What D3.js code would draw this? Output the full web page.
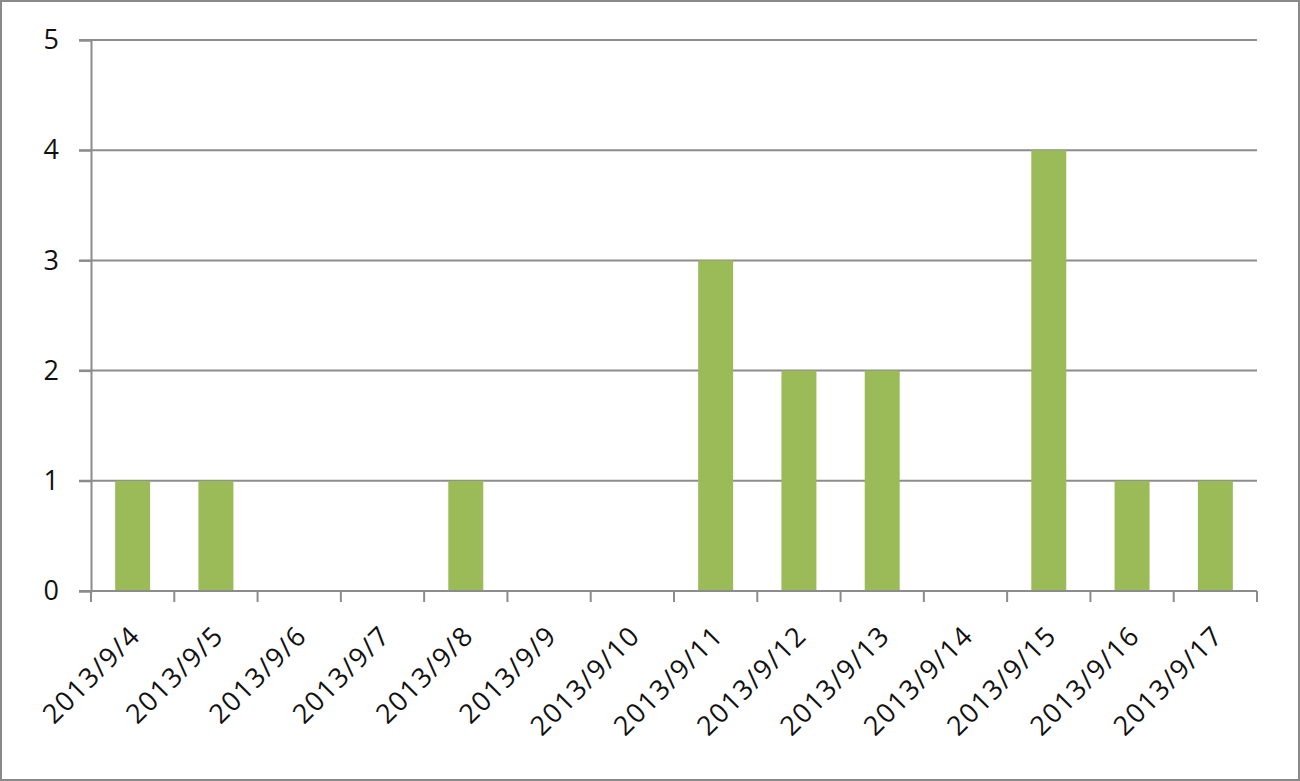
<!DOCTYPE html>
<html>
<head>
<meta charset="utf-8">
<script src="https://cdn.jsdelivr.net/npm/d3@7"></script>
<style>
  body { margin: 0; background: #fff; }
  svg text { font-family: "Open Sans", "Liberation Sans", sans-serif; fill: #111; }
</style>
</head>
<body>
<script>
const width = 1300,
      height = 781;

const dates = ["2013/9/4", "2013/9/5", "2013/9/6", "2013/9/7", "2013/9/8", "2013/9/9", "2013/9/10",
               "2013/9/11", "2013/9/12", "2013/9/13", "2013/9/14", "2013/9/15", "2013/9/16", "2013/9/17"];
const counts = [1, 1, 0, 0, 1, 0, 0, 3, 2, 2, 0, 4, 1, 1];
const yTicks = [0, 1, 2, 3, 4, 5];

const margin = {top: 40, right: 43, bottom: 190, left: 91};
const gridColor = "#8c8c8c";

const svg = d3.select("body").append("svg")
    .attr("width", width)
    .attr("height", height);

// outer frame
svg.append("rect")
    .attr("x", 1).attr("y", 1)
    .attr("width", width - 2).attr("height", height - 2)
    .attr("fill", "#fff")
    .attr("stroke", "#8a8a8a")
    .attr("stroke-width", 2);

const x = d3.scaleBand()
    .domain(dates)
    .range([margin.left, width - margin.right])
    .paddingInner(0.58)
    .paddingOuter(0.29);

const y = d3.scaleLinear()
    .domain([0, 5])
    .range([height - margin.bottom, margin.top]);

// gridlines
svg.append("g")
    .selectAll("line")
    .data(yTicks)
    .join("line")
    .attr("x1", margin.left - 12)
    .attr("x2", width - margin.right)
    .attr("y1", d => y(d))
    .attr("y2", d => y(d))
    .attr("stroke", gridColor)
    .attr("stroke-width", 2);

// y axis
const yAxis = svg.append("g")
    .attr("transform", `translate(${margin.left},0)`)
    .call(d3.axisLeft(y).tickValues(yTicks).tickFormat(d3.format("d")).tickSize(12).tickPadding(20));
yAxis.select(".domain").attr("stroke", gridColor).attr("stroke-width", 2);
yAxis.selectAll(".tick line").attr("stroke", gridColor).attr("stroke-width", 2);
yAxis.selectAll("text").attr("font-size", 27).attr("fill", "#111");

// bars
svg.append("g")
    .selectAll("rect")
    .data(dates)
    .join("rect")
    .attr("x", d => x(d))
    .attr("width", x.bandwidth())
    .attr("y", (d, i) => y(counts[i]))
    .attr("height", (d, i) => y(0) - y(counts[i]))
    .attr("fill", "#9bbb59");

// x axis: ticks at category boundaries
const step = x.step();
const bounds = d3.range(dates.length + 1).map(i => margin.left + i * step);
const xg = svg.append("g");
xg.append("line")
    .attr("x1", margin.left).attr("x2", width - margin.right)
    .attr("y1", y(0)).attr("y2", y(0))
    .attr("stroke", gridColor).attr("stroke-width", 2);
xg.selectAll(".xtick")
    .data(bounds)
    .join("line")
    .attr("class", "xtick")
    .attr("x1", d => d).attr("x2", d => d)
    .attr("y1", y(0)).attr("y2", y(0) + 11)
    .attr("stroke", gridColor).attr("stroke-width", 2);

xg.selectAll("text")
    .data(dates)
    .join("text")
    .attr("transform", d => `translate(${x(d) + x.bandwidth() / 2 - 4},${y(0) + 33}) rotate(-45)`)
    .attr("text-anchor", "end")
    .attr("dy", "0.7em")
    .attr("font-size", 27)
    .attr("letter-spacing", 1.5)
    .text(d => d);
</script>
</body>
</html>
